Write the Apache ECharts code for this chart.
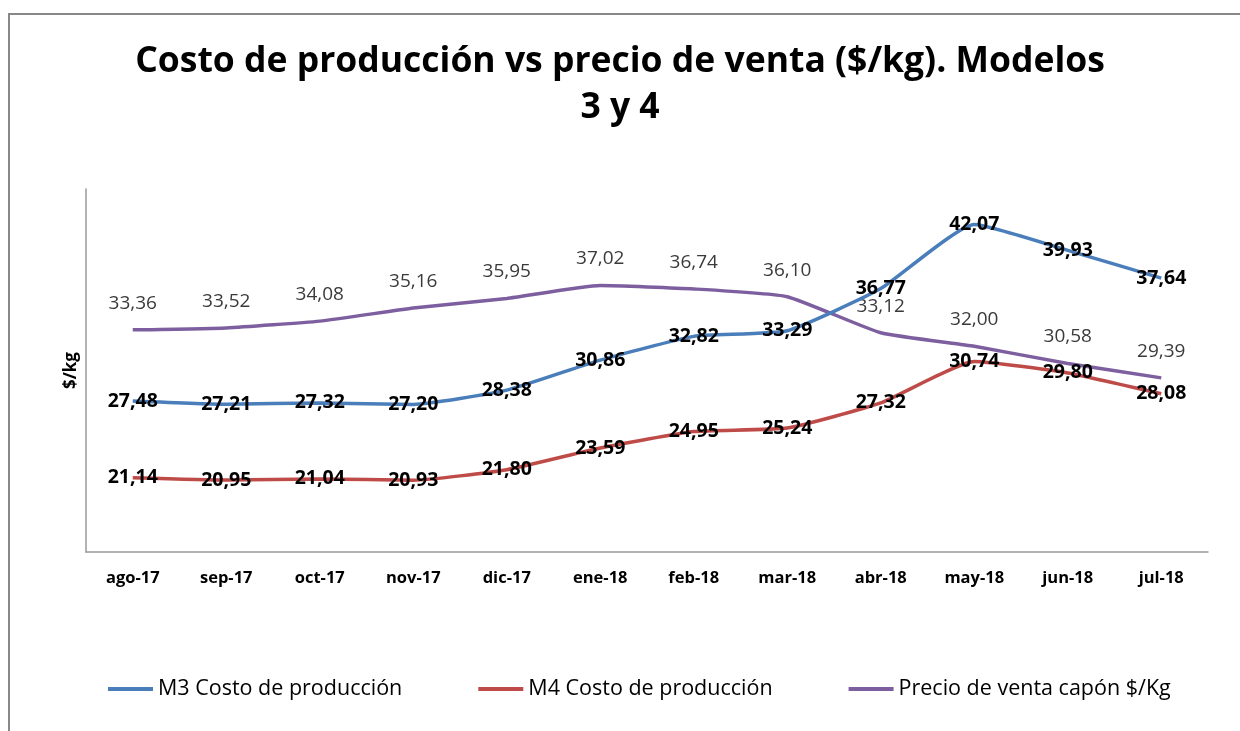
<!DOCTYPE html>
<html>
<head>
<meta charset="utf-8">
<script src="https://cdn.jsdelivr.net/npm/echarts@6/dist/echarts.min.js"></script>
<style>
  html, body { margin: 0; padding: 0; background: #fff; }
  #chart { width: 1240px; height: 731px; }
</style>
</head>
<body>
<div id="chart"></div>
<script>
// categories (months)
const months = ['ago-17', 'sep-17', 'oct-17', 'nov-17', 'dic-17', 'ene-18', 'feb-18', 'mar-18', 'abr-18', 'may-18', 'jun-18', 'jul-18']

// $/kg values
const m3Costo = [27.48, 27.21, 27.32, 27.20, 28.38, 30.86, 32.82, 33.29, 36.77, 42.07, 39.93, 37.64]
const m4Costo = [21.14, 20.95, 21.04, 20.93, 21.80, 23.59, 24.95, 25.24, 27.32, 30.74, 29.80, 28.08]
const precioVenta = [33.36, 33.52, 34.08, 35.16, 35.95, 37.02, 36.74, 36.10, 33.12, 32.00, 30.58, 29.39]

const COLORS = {
  m3: '#4A7EBB',
  m4: '#BE4B48',
  precio: '#7D5FA0'
}

const FONT = '"Open Sans", "DejaVu Sans", sans-serif'

// numbers with comma decimals
const fmt = v => v.toFixed(2).replace('.', ',')

const chart = echarts.init(document.getElementById('chart'))

const boldLabel = {
  show: true,
  position: 'inside',
  color: '#000',
  fontFamily: FONT,
  fontWeight: 'bold',
  fontSize: 19.5,
  formatter: ({ value }) => fmt(value)
}

// line series without visible markers (labels still need a symbol)
const lineSeries = (name, data, color, label, z) => ({
  name,
  type: 'line',
  data,
  smooth: 0.15,
  showSymbol: true,
  symbol: 'circle',
  symbolSize: 0.1,
  lineStyle: { color, width: 3.5 },
  itemStyle: { color },
  label,
  labelLayout: { hideOverlap: false },
  emphasis: { disabled: true },
  z
})

chart.setOption({
  animation: false,
  textStyle: { fontFamily: FONT },
  title: {
    text: 'Costo de producción vs precio de venta ($/kg). Modelos\n3 y 4',
    left: 'center',
    top: 34,
    textStyle: {
      fontFamily: FONT,
      fontWeight: 'bold',
      fontSize: 35.5,
      lineHeight: 46,
      color: '#000'
    }
  },
  // outer chart frame (top + left edge visible)
  graphic: [
    {
      type: 'rect',
      shape: { x: 9, y: 14, width: 1400, height: 900 },
      style: { fill: 'none', stroke: '#888', lineWidth: 2 },
      silent: true
    }
  ],
  legend: {
    left: 103,
    top: 673,
    itemWidth: 45,
    itemHeight: 4,
    itemGap: 76,
    icon: 'rect',
    textStyle: { fontFamily: FONT, fontSize: 21.5, color: '#000' },
    data: ['M3 Costo de producción', 'M4 Costo de producción', 'Precio de venta capón $/Kg']
  },
  grid: { left: 86, right: 32, top: 189, bottom: 179, containLabel: false },
  xAxis: {
    type: 'category',
    data: months,
    boundaryGap: true,
    axisLine: { lineStyle: { color: '#999', width: 1.5 } },
    axisTick: { show: false },
    axisLabel: {
      color: '#000',
      fontFamily: FONT,
      fontWeight: 'bold',
      fontSize: 16.5,
      margin: 18
    }
  },
  yAxis: {
    type: 'value',
    min: 15,
    max: 45,
    interval: 5,
    name: '$/kg',
    nameLocation: 'middle',
    nameRotate: 90,
    nameGap: 6,
    nameTextStyle: { color: '#000', fontFamily: FONT, fontWeight: 'bold', fontSize: 17 },
    axisLine: { show: true, lineStyle: { color: '#999', width: 1.5 } },
    axisTick: { show: false },
    axisLabel: { show: false },
    splitLine: { show: false }
  },
  series: [
    lineSeries('M3 Costo de producción', m3Costo, COLORS.m3, boldLabel, 3),
    lineSeries('M4 Costo de producción', m4Costo, COLORS.m4, boldLabel, 3),
    lineSeries('Precio de venta capón $/Kg', precioVenta, COLORS.precio, {
      show: true,
      position: 'top',
      distance: 17,
      color: '#3a3a3a',
      fontFamily: FONT,
      fontSize: 19,
      formatter: ({ value }) => fmt(value)
    }, 2)
  ]
})
</script>
</body>
</html>
